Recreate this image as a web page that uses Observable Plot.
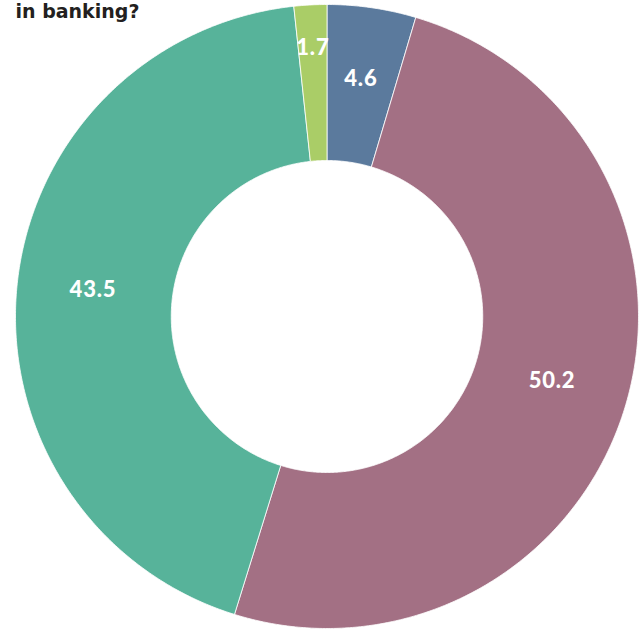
<!DOCTYPE html>
<html><head><meta charset="utf-8">
<script src="https://cdn.jsdelivr.net/npm/d3@7"></script>
<script src="https://cdn.jsdelivr.net/npm/@observablehq/plot@0.6"></script>
<style>
body{margin:0;background:#fff;}
#chart svg{display:block;}
.lbl text{letter-spacing:0.8px;}
</style>
</head><body><div id="chart"></div>
<script>
const sliceLabels = ["4.6", "50.2", "43.5", "1.7"];
const sliceValues = [4.6, 50.2, 43.5, 1.7];
const sliceColors = ["#5b7a9d", "#a37084", "#57b39a", "#aacd67"];
const titleText = "in banking?";

const innerRatio = 0.5;
const total = d3.sum(sliceValues);
let acc = 0;
const slices = sliceValues.map((v, i) => {
  const a0 = acc / total * 2 * Math.PI;
  acc += v;
  const a1 = acc / total * 2 * Math.PI;
  return {v, a0, a1, label: sliceLabels[i], color: sliceColors[i]};
});
function ring(s) {
  const n = Math.max(4, Math.ceil((s.a1 - s.a0) / (Math.PI / 360)));
  const pts = [];
  for (let k = 0; k <= n; k++) {
    const a = s.a0 + (s.a1 - s.a0) * k / n;
    pts.push({x: Math.sin(a), y: Math.cos(a)});
  }
  for (let k = n; k >= 0; k--) {
    const a = s.a0 + (s.a1 - s.a0) * k / n;
    pts.push({x: innerRatio * Math.sin(a), y: innerRatio * Math.cos(a)});
  }
  pts.push(pts[0]);
  return pts;
}
const labelData = slices.map(s => {
  const m = (s.a0 + s.a1) / 2;
  const r = s.v / total < 0.03 ? 0.85 : 0.755;
  return {x: r * Math.sin(m), y: r * Math.cos(m), text: s.label};
});

const chart = Plot.plot({
  width: 642,
  height: 632,
  marginLeft: 15,
  marginRight: 4,
  marginTop: 4,
  marginBottom: 4,
  x: {domain: [-1, 1], axis: null},
  y: {domain: [-1, 1], axis: null},
  marks: [
    ...slices.map(s => Plot.line(ring(s), {x: "x", y: "y", fill: s.color, stroke: "white", strokeWidth: 0.8, curve: "linear"})),
    Plot.text(labelData, {x: "x", y: "y", dy: -4, text: "text", fill: "white", fontSize: 22, fontWeight: 900, fontFamily: "Lato", className: "lbl"}),
    Plot.text([titleText], {frameAnchor: "top-left", text: d => d, dx: 0, dy: 0, lineAnchor: "top", textAnchor: "start", fontSize: 19, fontWeight: "bold", fontFamily: "DejaVu Sans", fill: "#231f20"})
  ]
});
document.getElementById("chart").appendChild(chart);
</script>
</body></html>
